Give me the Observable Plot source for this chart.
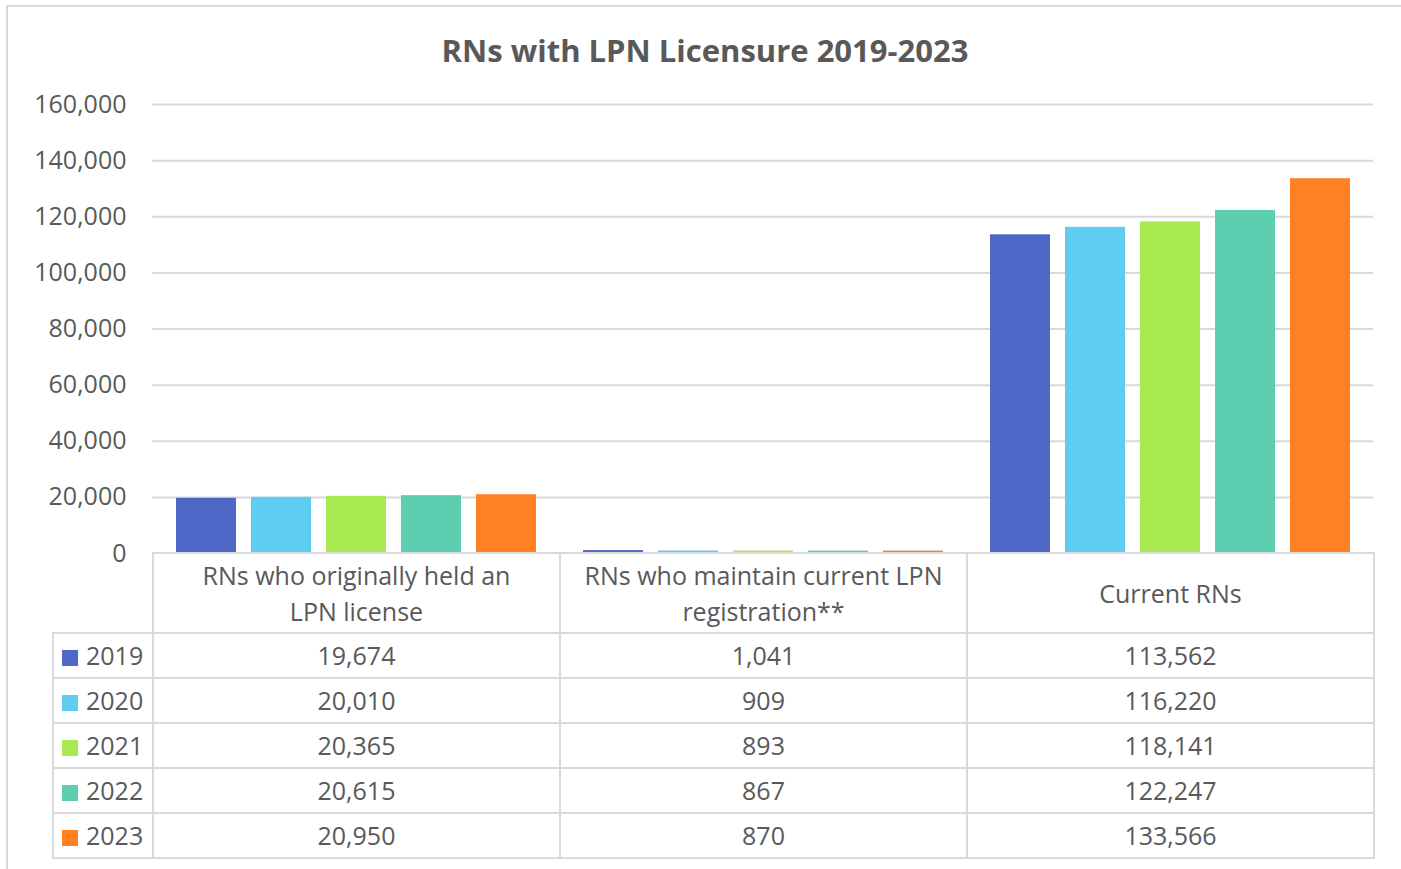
<!DOCTYPE html>
<html>
<head>
<meta charset="utf-8">
<script src="https://cdn.jsdelivr.net/npm/d3@7"></script>
<script src="https://cdn.jsdelivr.net/npm/@observablehq/plot@0.6"></script>
<style>
  html, body { margin: 0; padding: 0; background: #fff; }
  #wrap { position: relative; width: 1401px; height: 869px; overflow: hidden; font-family: "Open Sans", Lato, sans-serif; color: #595959; }
  #frame { position: absolute; left: 6px; top: 5px; width: 1400px; height: 870px; border-top: 2px solid #d9d9d9; border-left: 2px solid #d9d9d9; }
  #title { position: absolute; left: 0; width: 1410px; top: 29px; text-align: center; font-weight: bold; font-size: 31px; line-height: 42px; }
  #chart { position: absolute; left: 0; top: 0; }
  #tbl { position: absolute; left: 52px; top: 552px; border-collapse: collapse; table-layout: fixed; font-size: 25px; }
  #tbl td { border: 2px solid #d9d9d9; text-align: center; padding: 0; color: #595959; }
  #tbl tr.head td { height: 78px; line-height: 36px; }
  #tbl tr.row td { height: 43px; line-height: 43px; }
  #tbl td.corner { border-top: none; border-left: none; }
  #tbl td.leg { text-align: left; padding-left: 8px; white-space: nowrap; }
  .sw { display: inline-block; width: 16px; height: 16px; margin-right: 8px; vertical-align: -1px; }
</style>
</head>
<body>
<div id="wrap">
  <div id="frame"></div>
  <div id="title"></div>
  <div id="chart"></div>
  <table id="tbl"></table>
</div>
<script>
const title = "RNs with LPN Licensure 2019-2023";
const categories = ["RNs who originally held an LPN license", "RNs who maintain current LPN registration**", "Current RNs"];
const categoryLines = [["RNs who originally held an", "LPN license"], ["RNs who maintain current LPN", "registration**"], ["Current RNs"]];
const years = ["2019", "2020", "2021", "2022", "2023"];
const colors = ["#4f67c7", "#5fcdf2", "#a9ea52", "#5dcfb0", "#ff8121"];
const originallyHeld = [19674, 20010, 20365, 20615, 20950];
const maintainLPN = [1041, 909, 893, 867, 870];
const currentRNs = [113562, 116220, 118141, 122247, 133566];
const yTicks = [0, 20000, 40000, 60000, 80000, 100000, 120000, 140000, 160000];

const series = [originallyHeld, maintainLPN, currentRNs];
const data = [];
categories.forEach((c, ci) => years.forEach((y, yi) => data.push({cat: c, year: y, value: series[ci][yi]})));

document.getElementById("title").textContent = title;

const fmt = d3.format(",");

const chart = Plot.plot({
  width: 1401,
  height: 554,
  marginLeft: 152,
  marginRight: 28,
  marginTop: 104,
  marginBottom: 1,
  style: {fontFamily: "'Open Sans', Lato, sans-serif", fontSize: "25px", color: "#595959", background: "transparent", overflow: "visible"},
  fx: {domain: categories, padding: 0, axis: null},
  x: {domain: years, paddingInner: 0.2, paddingOuter: 0.3, axis: null},
  y: {domain: [0, 160000], ticks: yTicks, tickFormat: fmt, tickSize: 0, tickPadding: 26, label: null},
  color: {domain: years, range: colors},
  marks: [
    Plot.ruleY(yTicks.filter(d => d > 0), {stroke: "#d9d9d9", strokeWidth: 2}),
    Plot.barY(data, {fx: "cat", x: "year", y: "value", fill: "year", inset: 0}),
    Plot.axisY({ticks: yTicks, tickFormat: fmt, tickSize: 0, tickPadding: 26, fontSize: 25, fill: "#595959", label: null})
  ]
});
document.getElementById("chart").appendChild(chart);

// data table
const tbl = d3.select("#tbl");
const cg = tbl.append("colgroup");
cg.append("col").style("width", "100px");
categories.forEach(() => cg.append("col").style("width", "407px"));
const head = tbl.append("tr").attr("class", "head");
head.append("td").attr("class", "corner");
categoryLines.forEach(lines => head.append("td").html(lines.join("<br>")));
years.forEach((y, yi) => {
  const tr = tbl.append("tr").attr("class", "row");
  const leg = tr.append("td").attr("class", "leg");
  leg.append("span").attr("class", "sw").style("background", colors[yi]);
  leg.append("span").text(y);
  series.forEach(s => tr.append("td").text(fmt(s[yi])));
});
</script>
</body>
</html>
